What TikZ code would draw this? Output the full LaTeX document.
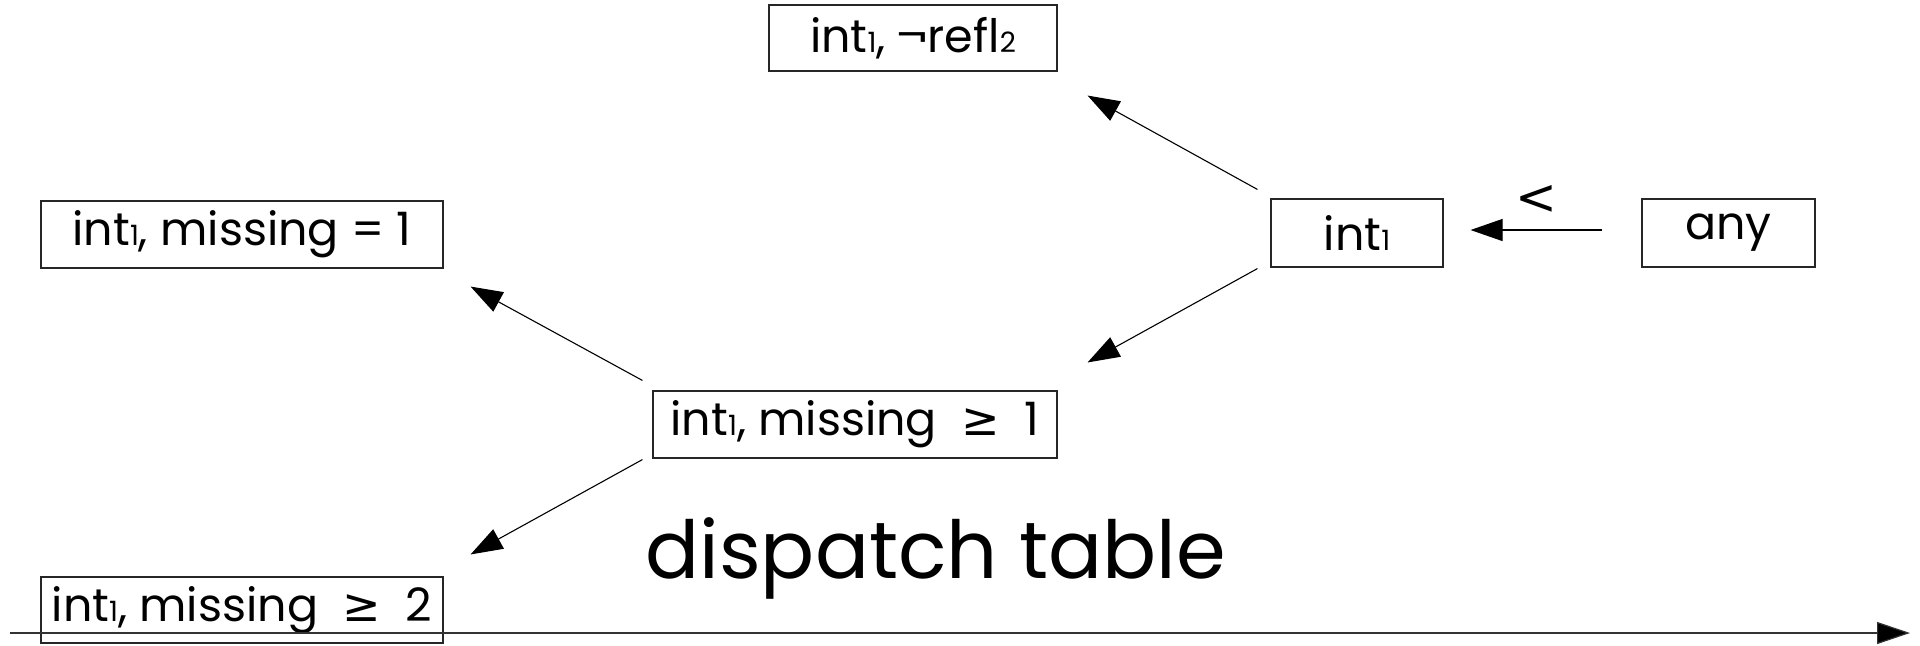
\documentclass[tikz,border=0pt]{standalone}
\usepackage{fontspec}
\setmainfont{Poppins}
\newfontfamily\symfont{DejaVu Sans}
\usetikzlibrary{arrows.meta,calc}

% small index digit sitting on the baseline
\newcommand\idx[1]{{\fontsize{14pt}{14pt}\selectfont #1}}
% relation signs taken from a font with full-size operators
\newcommand\geqsign{{\symfont ≥}}

\tikzset{
  tbox/.style={draw=black!85, line width=0.55pt, inner sep=0pt,
    font=\fontsize{23pt}{23pt}\selectfont, anchor=center},
  edge/.style={line width=0.55pt, -{Triangle[length=16pt,width=11pt]}},
}

\begin{document}
\begin{tikzpicture}[x=0.5pt,y=-0.5pt]
  \useasboundingbox (0,0) rectangle (1920,645);

  % type boxes
  \node[tbox, minimum width=144pt, minimum height=33pt] (refl) at (913,38)
    {int\idx{1}, ¬refl\idx{2}};
  \node[tbox, minimum width=86pt, minimum height=34pt] (int) at (1357,233)
    {int\idx{1}};
  \node[tbox, minimum width=86.5pt, minimum height=34pt] (any) at (1728.5,233)
    {any};
  \node[tbox, minimum width=201pt, minimum height=33.5pt] (meq) at (242,234.5)
    {int\idx{1}, missing = 1};
  \node[tbox, minimum width=202pt, minimum height=33.5pt] (mge1) at (855,424.5)
    {int\idx{1}, missing \ \geqsign\ \ 1};
  \node[tbox, minimum width=201pt, minimum height=33pt] (mge2) at (242,610)
    {int\idx{1}, missing \ \geqsign\ \ 2};

  % title
  \node[anchor=base west, inner sep=0pt, font=\fontsize{40pt}{40pt}\selectfont]
    (title) at (645,578) {dispatch table};

  % comparison edge
  \draw[edge] ($(any.west)+(-39,-3)$) -- ($(int.east)+(27,-3)$)
    node[midway, yshift=15pt, inner sep=0pt, font=\symfont\fontsize{25pt}{25pt}\selectfont] (lt) {<};

  % refinement edges
  \draw[edge] ($(int.north west)+(-13,-9)$) -- ($(refl.south east)+(30,24)$);
  \draw[edge] ($(int.south west)+(-13,1)$) -- ($(mge1.north east)+(30,-28)$);
  \draw[edge] ($(mge1.north west)+(-10,-10)$) -- ($(meq.south east)+(27,18)$);
  \draw[edge] ($(mge1.south west)+(-10,1)$) -- ($(mge2.north east)+(27,-22)$);

  % time axis
  \coordinate (ax0) at (10,633);
  \coordinate (ax1) at (1910,633);
  \draw[line width=0.6pt, draw=black!80, -{Triangle[length=16.5pt,width=11pt,fill=black]}] (ax0) -- (ax1);
\end{tikzpicture}
\end{document}
